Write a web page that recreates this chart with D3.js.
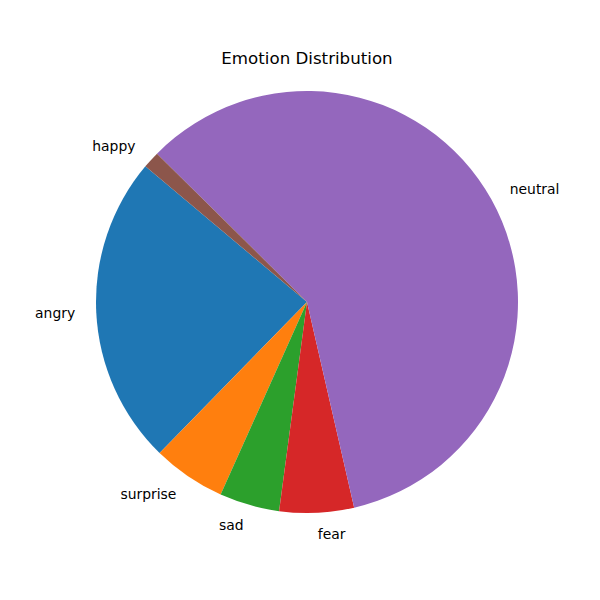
<!DOCTYPE html>
<html lang="en">
<head>
    <meta charset="UTF-8">
    <title>Emotion Distribution</title>
    <script src="https://d3js.org/d3.v7.min.js"></script>
    <style>
        body { margin: 0; background: #fff; }
        text { font-family: "DejaVu Sans", sans-serif; fill: #000; }
    </style>
</head>
<body>
    <svg></svg>

    <script>
        const emotions = ["angry", "surprise", "sad", "fear", "neutral", "happy"];
        const shares = [23.8, 5.6, 4.6, 5.7, 59.0, 1.3];
        const colors = ["#1f77b4", "#ff7f0e", "#2ca02c", "#d62728", "#9467bd", "#8c564b"];

        const width = 600, height = 600;
        const cx = 307, cy = 302, radius = 211;
        const startDeg = 140; // matplotlib style start angle, counterclockwise

        const svg = d3.select('svg')
            .attr('width', width)
            .attr('height', height)
            .attr('viewBox', [0, 0, width, height]);

        const data = emotions.map((e, i) => ({ label: e, value: shares[i], color: colors[i] }));

        const rad = d => d * Math.PI / 180;
        const pie = d3.pie()
            .sort(null)
            .value(d => d.value)
            .startAngle(rad(90 - startDeg))
            .endAngle(rad(90 - startDeg - 360));

        const arc = d3.arc().innerRadius(0).outerRadius(radius);
        const arcs = pie(data);

        const g = svg.append('g').attr('transform', `translate(${cx},${cy})`);

        g.selectAll('path')
            .data(arcs)
            .join('path')
            .attr('d', arc)
            .attr('fill', d => d.data.color);

        // labels at 1.1 * radius
        g.selectAll('text.lbl')
            .data(arcs)
            .join('text')
            .attr('class', 'lbl')
            .each(function (d) {
                const a = (d.startAngle + d.endAngle) / 2;
                const x = Math.sin(a) * radius * 1.1;
                const y = -Math.cos(a) * radius * 1.1;
                d3.select(this)
                    .attr('x', x)
                    .attr('y', y)
                    .attr('text-anchor', x > 0 ? 'start' : 'end')
                    .attr('dominant-baseline', 'central');
            })
            .style('font-size', '13.9px')
            .text(d => d.data.label);

        svg.append('text')
            .attr('x', cx)
            .attr('y', 64)
            .attr('text-anchor', 'middle')
            .style('font-size', '16.67px')
            .text('Emotion Distribution');
    </script>
</body>
</html>
